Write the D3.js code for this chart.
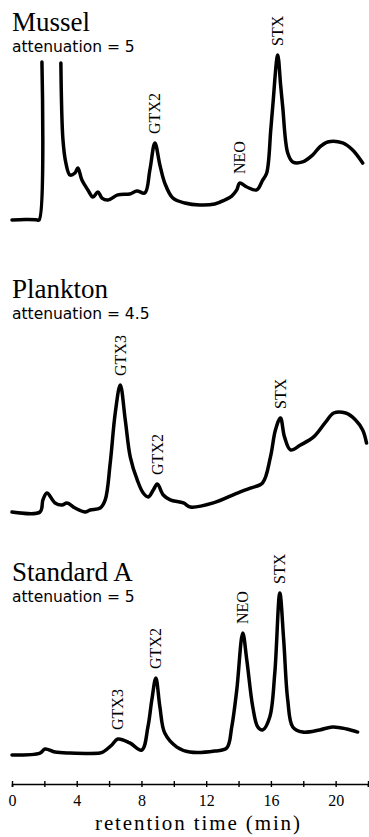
<!DOCTYPE html>
<html>
<head>
<meta charset="utf-8">
<script src="https://cdn.jsdelivr.net/npm/d3@7"></script>
<style>
  body { margin: 0; background: #fff; }
</style>
</head>
<body>
<svg id="chart" width="369" height="837"></svg>
<script>
// axis
const axisTicks = [0, 2, 4, 6, 8, 10, 12, 14, 16, 18, 20, 22];
const axisLabels = ["0", "", "4", "", "8", "", "12", "", "16", "", "20", ""];

// Mussel trace (retention time in min, detector signal in relative units; null = pen off scale)
const musselTime = [0, 0.8, 1.5, 1.67, 1.85, 2.4, 3.02, 3.15, 3.33, 3.58, 3.89, 4.07, 4.32, 4.69, 5.0, 5.31, 5.56, 5.93, 6.54, 7.28, 7.72, 8.21,
    8.52, 8.83, 9.14, 9.44, 9.94, 10.68, 11.6, 12.53, 13.15, 13.58, 13.89, 14.07, 14.51, 15.12, 15.49, 15.74, 15.99, 16.11, 16.42, 16.6,
    16.73, 17.04, 17.35, 17.96, 18.58, 19.01, 19.51, 20.43, 21.05, 21.67];
const musselSignal = [0, 0.3, 0.2, 0, 95.8, null, 95.2, 48.5, 34.5, 27.3, 28.5, 31.5, 24.2, 18.2, 13.9, 17.0, 13.3, 12.1, 15.2, 15.8, 17.6, 16.4,
    30.3, 46.7, 33.3, 22.4, 13.3, 10.3, 9.1, 9.7, 12.1, 14.5, 18.2, 22.4, 20.0, 18.2, 24.2, 28.5, 54.5, 68.5, 100, 81.8,
    68.5, 40.6, 35.2, 35.2, 39.4, 44.2, 47.3, 46.7, 42.4, 34.5];
const musselPeaks = ["GTX2", "NEO", "STX"];
const musselPeakTimes = [8.83, 14.07, 16.42];

// Plankton trace
const planktonTime = [0, 1.73, 1.91, 2.16, 2.66, 3.09, 3.4, 3.9, 4.52, 4.83, 5.45, 5.76, 6.07, 6.38, 6.69, 7.0, 7.31, 7.74, 8.11, 8.42,
    8.73, 8.98, 9.35, 9.78, 10.59, 11.02, 12.44, 13.93, 14.73, 15.48, 15.97, 16.28, 16.59, 16.84, 17.21, 17.83, 18.64, 19.38, 19.88, 20.62,
    21.23, 21.67, 21.91];
const planktonSignal = [0, 0, 7.3, 11.5, 5.5, 4.2, 5.5, 2.4, 0, 1.2, 2.4, 7.3, 29.7, 60, 77, 55.8, 33.3, 19.4, 11.5, 9.1,
    13.3, 17.0, 10.3, 7.3, 5.5, 3.0, 5.5, 11.5, 14.5, 17.6, 33.3, 49.7, 57, 45.5, 37.6, 40.6, 45.5, 54.5, 60, 60,
    55.8, 49.7, 41.8];
const planktonPeaks = ["GTX3", "GTX2", "STX"];
const planktonPeakTimes = [6.69, 8.98, 16.59];

// Standard A trace
const standardTime = [0, 1.73, 2.04, 2.66, 3.58, 5.43, 5.62, 6.17, 6.54, 7.28, 8.02, 8.4, 8.64, 8.89, 9.14, 9.44, 10.19, 10.99, 12.53, 13.27,
    13.58, 13.89, 14.26, 14.51, 14.88, 15.19, 15.5, 15.93, 16.24, 16.55, 16.79, 17.04, 17.35, 17.96, 19.01, 19.81, 20.68, 21.36];
const standardSignal = [0, 1.2, 3.6, 1.8, 1.2, 1.2, 1.8, 6.1, 9.7, 7.3, 3.0, 17.0, 33.3, 46.7, 29.1, 13.3, 4.8, 1.8, 2.4, 4.2,
    17.0, 39.4, 73.9, 57.6, 29.1, 17.0, 15.2, 23.0, 49.7, 98.2, 69.7, 33.3, 17.0, 13.9, 15.2, 17.0, 15.8, 13.9];
const standardPeaks = ["GTX3", "GTX2", "NEO", "STX"];
const standardPeakTimes = [6.54, 8.89, 14.26, 16.55];

const panels = [
    { title: "Mussel", atten: "attenuation = 5", time: musselTime, signal: musselSignal, peaks: musselPeaks, peakTimes: musselPeakTimes, base: 220, titleY: 31 },
    { title: "Plankton", atten: "attenuation = 4.5", time: planktonTime, signal: planktonSignal, peaks: planktonPeaks, peakTimes: planktonPeakTimes, base: 512, titleY: 298 },
    { title: "Standard A", atten: "attenuation = 5", time: standardTime, signal: standardSignal, peaks: standardPeaks, peakTimes: standardPeakTimes, base: 755, titleY: 581 }
];

const serif = "'Liberation Serif', 'Times New Roman', serif";
const sans = "'DejaVu Sans', sans-serif";

const svg = d3.select("#chart");
const axisY = 784;

const x = d3.scaleLinear().domain([0, 22]).range([12, 368]);

panels.forEach(p => {
    const y = d3.scaleLinear().domain([0, 100]).range([p.base, p.base - 165]);
    const g = svg.append("g");

    g.append("text")
        .attr("x", 12)
        .attr("y", p.titleY)
        .style("font-family", serif)
        .style("font-size", "27px")
        .style("fill", "#000")
        .text(p.title);

    g.append("text")
        .attr("x", 12)
        .attr("y", p.titleY + 21)
        .style("font-family", sans)
        .style("font-size", "15.5px")
        .style("fill", "#000")
        .text(p.atten);

    const pts = p.time.map((t, i) => ({ t: t, v: p.signal[i] }));

    const line = d3.line()
        .defined(d => d.v !== null)
        .x(d => x(d.t))
        .y(d => y(d.v))
        .curve(d3.curveCatmullRom.alpha(0.5));

    g.append("path")
        .datum(pts)
        .attr("d", line)
        .attr("fill", "none")
        .attr("stroke", "#000")
        .attr("stroke-width", 3.5)
        .attr("stroke-linejoin", "round")
        .attr("stroke-linecap", "round");

    // peak labels, rotated, sitting just above each peak
    p.peaks.forEach((name, i) => {
        const t0 = p.peakTimes[i];
        const top = d3.max(pts.filter(d => d.v !== null && Math.abs(d.t - t0) < 0.3), d => d.v);
        const px = x(t0);
        const py = y(top) - 9;
        g.append("text")
            .attr("transform", `translate(${px},${py}) rotate(-90)`)
            .attr("dy", "0.35em")
            .attr("text-anchor", "start")
            .style("font-family", serif)
            .style("font-size", "16px")
            .style("fill", "#000")
            .text(name);
    });
});

// shared time axis
const axis = svg.append("g")
    .attr("transform", `translate(0,${axisY})`)
    .call(d3.axisBottom(x)
        .tickValues(axisTicks)
        .tickSizeOuter(0)
        .tickSize(3)
        .tickPadding(10)
        .tickFormat((d, i) => axisLabels[i]));

axis.select(".domain").attr("stroke", "#000").attr("stroke-width", 1.6);
axis.selectAll(".tick line").attr("y1", -3).attr("y2", 3).attr("stroke", "#000").attr("stroke-width", 1.4);
axis.selectAll(".tick text")
    .attr("y", 22)
    .attr("dy", 0)
    .style("font-family", serif)
    .style("font-size", "16px")
    .style("fill", "#000");

svg.append("text")
    .attr("x", 95)
    .attr("y", 830)
    .attr("textLength", 205)
    .attr("lengthAdjust", "spacing")
    .style("font-family", serif)
    .style("font-size", "21px")
    .style("fill", "#000")
    .text("retention time (min)");
</script>
</body>
</html>
